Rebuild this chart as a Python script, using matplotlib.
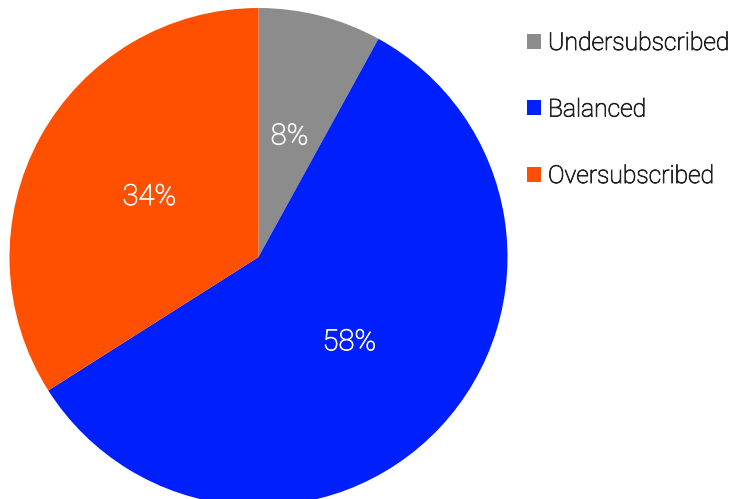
import matplotlib.pyplot as plt
import matplotlib.patheffects as pe
from matplotlib.patches import Patch

labels = ['Undersubscribed', 'Balanced', 'Oversubscribed']
shares = [8, 58, 34]
colors = ['#8c8c8c', '#001ffd', '#fe5000']

W, H = 736, 499
fig = plt.figure(figsize=(W / 100, H / 100), dpi=100)

# pie centre at (258.5, 257) px from top-left, radius 249 px
cx, cy, r = 258.5, 257, 249
ax = fig.add_axes([(cx - r) / W, (H - cy - r) / H, 2 * r / W, 2 * r / H])

font = dict(family='Roboto', weight='light')

wedges, texts, autotexts = ax.pie(
    shares, colors=colors, startangle=90, counterclock=False,
    autopct='%d%%', pctdistance=0.5, radius=1,
    wedgeprops=dict(linewidth=0),
    textprops=dict(color='#f4f4f4', fontsize=21, **font))
for t in autotexts:
    t.set_path_effects([pe.withStroke(linewidth=0.6, foreground='#f4f4f4')])
ax.set_xlim(-1, 1)
ax.set_ylim(-1, 1)
ax.set_aspect('auto')

handles = [Patch(facecolor=c, edgecolor='none') for c in colors]
leg = fig.legend(handles, labels, loc='upper left', bbox_to_anchor=(527 / W, 1 - 31 / H),
                 frameon=False, handlelength=0.55, handleheight=0.55, handletextpad=0.3,
                 labelspacing=1.72, borderpad=0, borderaxespad=0,
                 prop=dict(size=17.8, **font), labelcolor='#222222')
for t in leg.get_texts():
    t.set_path_effects([pe.withStroke(linewidth=0.6, foreground='#222222')])

fig.savefig('out.png', dpi=100)
